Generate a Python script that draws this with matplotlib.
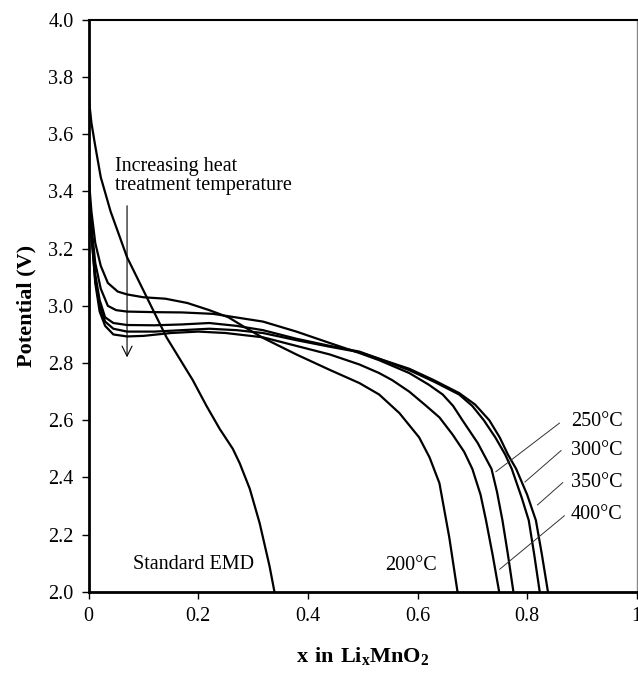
import matplotlib
matplotlib.use("Agg")
import matplotlib.pyplot as plt

# discharge curves: x in LixMnO2 vs potential (V)
emd_x = [0, 0.005, 0.011, 0.022, 0.04, 0.07, 0.106, 0.142, 0.19, 0.215, 0.239, 0.263, 0.2755, 0.294, 0.312, 0.33, 0.339]
emd_y = [3.73, 3.64, 3.57, 3.45, 3.33, 3.17, 3.03, 2.89, 2.74, 2.65, 2.57, 2.50, 2.45, 2.36, 2.24, 2.09, 2.0]

t200_x = [0, 0.005, 0.012, 0.022, 0.035, 0.053, 0.07, 0.1, 0.14, 0.18, 0.22, 0.255, 0.285, 0.318, 0.379, 0.44, 0.494, 0.53, 0.567, 0.603, 0.622, 0.64, 0.658, 0.673]
t200_y = [3.45, 3.33, 3.22, 3.14, 3.08, 3.05, 3.04, 3.03, 3.025, 3.01, 2.985, 2.96, 2.925, 2.888, 2.83, 2.776, 2.73, 2.69, 2.625, 2.54, 2.47, 2.38, 2.19, 2.0]

t250_x = [0, 0.005, 0.012, 0.022, 0.035, 0.05, 0.07, 0.12, 0.17, 0.227, 0.2575, 0.318, 0.379, 0.44, 0.494, 0.53, 0.585, 0.62, 0.646, 0.665, 0.682, 0.71, 0.735, 0.745, 0.755, 0.765, 0.775]
t250_y = [3.42, 3.28, 3.15, 3.06, 3.0, 2.985, 2.98, 2.978, 2.977, 2.972, 2.963, 2.945, 2.91, 2.87, 2.835, 2.81, 2.765, 2.725, 2.69, 2.65, 2.60, 2.52, 2.43, 2.35, 2.25, 2.13, 2.0]

t300_x = [0, 0.005, 0.012, 0.02, 0.03, 0.045, 0.07, 0.12, 0.17, 0.22, 0.27, 0.318, 0.379, 0.44, 0.494, 0.53, 0.585, 0.63, 0.676, 0.70, 0.721, 0.742, 0.76, 0.772, 0.79, 0.803, 0.813, 0.823]
t300_y = [3.42, 3.26, 3.11, 3.02, 2.96, 2.94, 2.933, 2.932, 2.935, 2.94, 2.93, 2.915, 2.885, 2.86, 2.84, 2.815, 2.775, 2.735, 2.69, 2.65, 2.60, 2.54, 2.48, 2.43, 2.33, 2.25, 2.13, 2.0]

t350_x = [0, 0.005, 0.012, 0.02, 0.03, 0.045, 0.07, 0.12, 0.17, 0.22, 0.27, 0.318, 0.379, 0.44, 0.494, 0.53, 0.585, 0.63, 0.676, 0.705, 0.731, 0.75, 0.765, 0.78, 0.8, 0.816, 0.827, 0.838]
t350_y = [3.42, 3.25, 3.09, 3.0, 2.945, 2.92, 2.91, 2.91, 2.915, 2.92, 2.915, 2.905, 2.88, 2.857, 2.838, 2.815, 2.78, 2.74, 2.695, 2.655, 2.60, 2.54, 2.48, 2.43, 2.34, 2.25, 2.13, 2.0]

t400_x = [0, 0.005, 0.012, 0.02, 0.03, 0.045, 0.07, 0.1, 0.15, 0.2, 0.25, 0.318, 0.379, 0.44, 0.494, 0.53, 0.554, 0.585, 0.616, 0.64, 0.664, 0.685, 0.70, 0.715, 0.725, 0.737, 0.749]
t400_y = [3.42, 3.25, 3.08, 2.98, 2.93, 2.90, 2.893, 2.895, 2.905, 2.91, 2.905, 2.89, 2.86, 2.83, 2.795, 2.765, 2.74, 2.70, 2.65, 2.61, 2.55, 2.49, 2.43, 2.34, 2.25, 2.13, 2.0]

curves = [(emd_x, emd_y), (t200_x, t200_y), (t250_x, t250_y),
          (t300_x, t300_y), (t350_x, t350_y), (t400_x, t400_y)]

# labels on the right with their leader lines
temp_labels = ["250°C", "300°C", "350°C", "400°C"]
label_y = [2.595, 2.494, 2.382, 2.269]
leader_start = [(0.859, 2.590), (0.862, 2.494), (0.865, 2.382), (0.868, 2.266)]
leader_end = [(0.743, 2.420), (0.796, 2.384), (0.819, 2.304), (0.750, 2.079)]

x_ticks = [0, 0.2, 0.4, 0.6, 0.8, 1]
x_ticklabels = ["0", "0.2", "0.4", "0.6", "0.8", "1"]
y_ticks = [2.0, 2.2, 2.4, 2.6, 2.8, 3.0, 3.2, 3.4, 3.6, 3.8, 4.0]

plt.rcParams["font.family"] = ["Liberation Serif", "DejaVu Serif"]
plt.rcParams["mathtext.fontset"] = "custom"
plt.rcParams["mathtext.rm"] = "Liberation Serif"
plt.rcParams["mathtext.bf"] = "Liberation Serif:bold"

fig = plt.figure(figsize=(6.38, 6.85), dpi=100)
ax = fig.add_axes([0.139, 0.136, 0.859, 0.835])

for cx, cy in curves:
    ax.plot(cx, cy, color="black", lw=1.6, solid_joinstyle="round")

for lab, ly, s, e in zip(temp_labels, label_y, leader_start, leader_end):
    ax.plot([s[0], e[0]], [s[1], e[1]], color="#333333", lw=0.7)
    ax.text(0.880, ly, lab, fontsize=14.5, va="center", ha="left")

ax.text(0.541, 2.092, "200°C", fontsize=14.5, va="center", ha="left")
ax.text(0.081, 2.094, "Standard EMD", fontsize=14.5, va="center", ha="left")
ax.text(0.048, 3.453, "Increasing heat\ntreatment temperature", fontsize=14.5,
        va="center", ha="left", linespacing=1.0)
ax.annotate("", xy=(0.070, 2.82), xytext=(0.070, 3.35),
            arrowprops=dict(arrowstyle="->", color="black", lw=0.8,
                            mutation_scale=18, shrinkA=0, shrinkB=0))

ax.set_xlim(0, 1)
ax.set_ylim(2.0, 4.0)
ax.set_xticks(x_ticks)
ax.set_xticklabels(x_ticklabels)
ax.set_yticks(y_ticks)
ax.set_yticklabels(["%.1f" % v for v in y_ticks])
ax.tick_params(direction="out", length=5, width=1.0, labelsize=14.5, pad=6)

for side in ["left", "bottom"]:
    ax.spines[side].set_linewidth(2.0)
ax.spines["top"].set_linewidth(1.5)
ax.spines["right"].set_linewidth(1.0)
ax.spines["right"].set_color("#888888")

ax.set_ylabel("Potential (V)", fontsize=16, fontweight="bold", labelpad=8)
fig.text(0.569, 0.043, r"$\mathbf{x\ in\ Li_xMnO_2}$", fontsize=16,
         ha="center", va="center")

fig.savefig("out.png", dpi=100)
